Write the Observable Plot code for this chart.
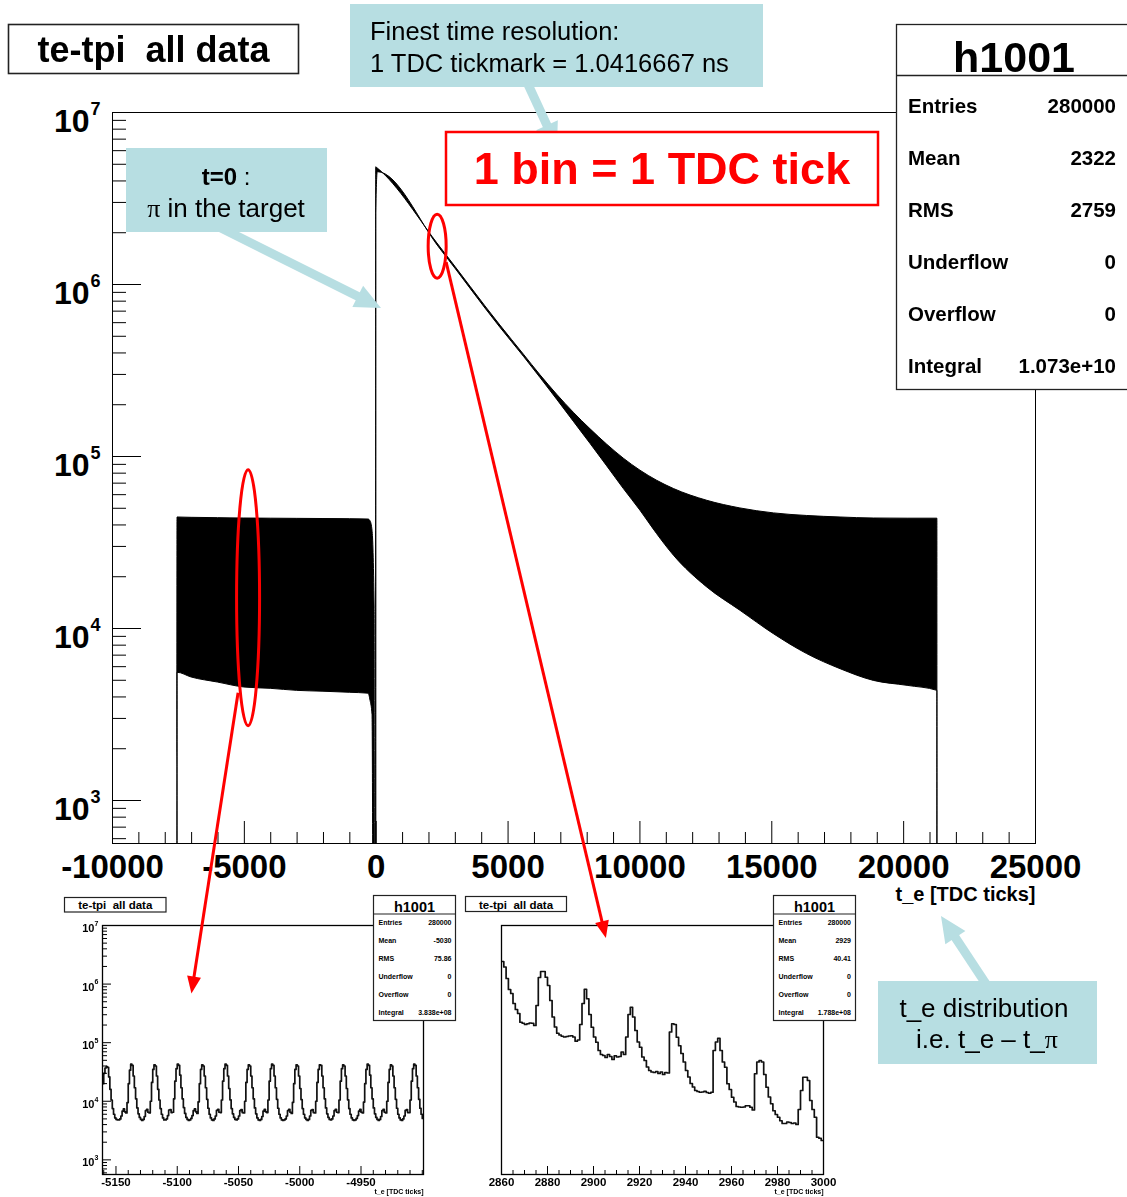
<!DOCTYPE html>
<html>
<head>
<meta charset="utf-8">
<script src="https://cdn.jsdelivr.net/npm/d3@7"></script>
<script src="https://cdn.jsdelivr.net/npm/@observablehq/plot@0.6"></script>
<style>
  html, body { margin: 0; padding: 0; background: #fff; }
  #fig { position: relative; width: 1127px; height: 1197px; overflow: hidden; background: #fff; }
  #fig > div, #fig > svg { position: absolute; }
  .inset { filter: blur(0.5px); }
  .inset > svg { position: absolute; left: 0; top: 0; }
</style>
</head>
<body>
<div id="fig"></div>
<script>
// ---------------- data ----------------
// t_e histogram (1 bin = 1 TDC tick), drawn as the band between the lower and
// upper envelope of the fast bunch structure. Counts per bin.
const envT     = [-7536, -7535, -7000, -6000, -5000, -4000, -3000, -2000, -1000, -290, -215, -140, -60, -40, -1,
                  0, 60, 2440, 4710, 5600, 6230, 6860, 7490, 8130, 8760, 9390, 10020, 10650, 11290, 12550, 13810, 15080, 16340, 17610, 18870, 20150, 21280, 21281];
const envUpper = [1, 44200, 44000, 43800, 43600, 43500, 43400, 43300, 43200, 43000, 42000, 37000, 13000, 1, 1,
                  4800000, 4720000, 1640000, 577000, 391000, 296500, 228800, 179800, 143800, 117100, 97100, 82700, 72300, 64700, 55300, 49900, 46700, 45100, 44200, 43600, 43500, 43500, 1];
const envLower = [1, 5530, 5190, 4850, 4540, 4460, 4340, 4290, 4230, 4180, 3800, 3150, 1, 1, 1,
                  2600000, 4500000, 1600000, 560000, 380000, 286000, 214000, 159400, 118200, 87600, 64700, 48400, 35400, 26500, 17330, 12680, 9270, 7100, 5800, 4960, 4640, 4340, 1];

// zoom on the pre-pion region: bins -5161 ... -4900, counts in thousands
const leftZoomStart = -5161;
const leftZoomCountsK = [
  20, 30, 37,
  39, 38, 26, 16, 10.5, 7.5, 6.0, 5.2, 4.9, 4.8, 4.8, 5.0, 5.6, 6.8, 7.4, 6.6, 6.3, 9.5, 20, 34,
  43, 41, 27, 17, 11, 7.7, 6.1, 5.3, 4.9, 4.7, 4.9, 5.5, 6.9, 7.3, 6.5, 6.3, 10, 21, 35,
  42, 40, 27, 16, 10.5, 7.5, 6.0, 5.2, 4.8, 4.8, 5.0, 5.7, 7.1, 7.2, 6.4, 6.5, 11, 22, 36,
  43, 41, 28, 17, 11, 7.8, 6.2, 5.3, 4.9, 4.7, 4.8, 5.1, 5.7, 6.9, 7.4, 6.6, 6.2, 9.8, 20, 35,
  42, 40, 27, 17, 10.8, 7.6, 6.0, 5.2, 4.8, 4.7, 5.0, 5.6, 7.0, 7.3, 6.5, 6.4, 10.5, 22, 36,
  43, 41, 27, 16.5, 10.6, 7.5, 6.1, 5.3, 4.9, 4.8, 5.0, 5.6, 6.9, 7.2, 6.4, 6.3, 10, 21, 35,
  42, 40, 27, 17, 11, 7.7, 6.1, 5.2, 4.8, 4.7, 4.9, 5.5, 6.8, 7.3, 6.6, 6.4, 10.5, 22, 36,
  43, 41, 27, 17, 10.8, 7.6, 6.0, 5.2, 4.8, 4.7, 4.8, 5.0, 5.6, 6.9, 7.3, 6.5, 6.2, 9.6, 20, 35,
  42, 40, 27, 16.5, 10.7, 7.5, 6.0, 5.2, 4.9, 4.7, 4.9, 5.6, 7.0, 7.2, 6.4, 6.3, 10, 21, 35,
  42, 41, 27, 17, 11, 7.7, 6.1, 5.3, 4.9, 4.8, 5.0, 5.6, 6.9, 7.3, 6.5, 6.4, 10.5, 22, 36,
  42, 40, 27, 16.5, 10.6, 7.5, 6.0, 5.2, 4.8, 4.7, 4.8, 5.1, 5.7, 6.8, 7.3, 6.5, 6.3, 9.7, 20, 35,
  43, 41, 28, 17, 11, 7.7, 6.1, 5.3, 4.9, 4.7, 4.9, 5.5, 6.9, 7.3, 6.5, 6.3, 10, 21, 35,
  42, 40, 27, 17, 10.8, 7.6, 6.0, 5.2, 4.8, 4.7, 5.0, 5.6, 7.0, 7.2, 6.4, 6.4, 10.5, 22, 36,
  43, 41, 27, 17, 10.8, 7.6, 6.0, 5.1
];

// zoom on the decay region: bins 2860 ... 2999, counts in thousands
const rightZoomStart = 2860;
const rightZoomCountsK = [
  1552, 1530, 1484, 1440, 1424, 1384, 1360, 1344, 1309, 1305,
  1300, 1303, 1306, 1305, 1296, 1376, 1488, 1512, 1512, 1489,
  1456, 1396, 1330, 1290, 1265, 1258, 1253, 1250, 1252, 1254,
  1255, 1250, 1233, 1238, 1300, 1384, 1441, 1403, 1340, 1289,
  1250, 1229, 1196, 1180, 1176, 1168, 1180, 1172, 1160, 1175,
  1170, 1172, 1190, 1180, 1250, 1340, 1369, 1330, 1276, 1230,
  1209, 1170, 1156, 1130, 1116, 1110, 1108, 1112, 1104, 1110,
  1100, 1108, 1106, 1270, 1303, 1300, 1249, 1215, 1184, 1150,
  1116, 1090, 1064, 1050, 1036, 1032, 1029, 1030, 1033, 1028,
  1025, 1029, 1196, 1230, 1245, 1196, 1150, 1129, 1063, 1040,
  1009, 990, 972, 970, 969, 970, 975, 975, 969, 958,
  1103, 1150, 1156, 1150, 1100, 1049, 1010, 983, 955, 940,
  929, 915, 904, 904, 910, 908, 904, 906, 900, 960,
  1036, 1089, 1089, 1076, 996, 960, 929, 849, 845, 836
];

// axis ticks and labels
const xMajor = [-10000, -5000, 0, 5000, 10000, 15000, 20000, 25000];
const yMajor = [1e3, 1e4, 1e5, 1e6, 1e7];
const leftZoomXMajor = [-5150, -5100, -5050, -5000, -4950];
const rightZoomXMajor = [2860, 2880, 2900, 2920, 2940, 2960, 2980, 3000];

// statistics boxes
const statLabels = ["Entries", "Mean", "RMS", "Underflow", "Overflow", "Integral"];
const mainStats = ["280000", "2322", "2759", "0", "0", "1.073e+10"];
const leftZoomStats = ["280000", "-5030", "75.86", "0", "0", "3.838e+08"];
const rightZoomStats = ["280000", "2929", "40.41", "0", "0", "1.788e+08"];

const histTitle = "te-tpi  all data";
const histName = "h1001";
const xTitle = "t_e [TDC ticks]";

// ---------------- layout helpers ----------------
const FONT = "'Liberation Sans', Arial, Helvetica, sans-serif";
const TEAL = "#b7dee2";
const RED = "#ff0000";
const fig = document.getElementById("fig");

const yMin = 10 ** 2.75, yMax = 1e7;
const yMinor = [];
for (let d = 2; d <= 6; ++d) for (let k = 2; k <= 9; ++k) {
  const v = k * 10 ** d;
  if (v >= yMin && v <= yMax) yMinor.push(v);
}
const xMinor = d3.range(-10000, 25001, 1000).filter(v => !xMajor.includes(v));

// ---------------- main histogram ----------------
const mainRows = envT.map((t, i) => ({t, upper: envUpper[i], lower: envLower[i]}));
const M = {w: 1127, h: 912, l: 112, r: 92, t: 112, b: 69};
const mpw = M.w - M.l - M.r, mph = M.h - M.t - M.b;

const main = Plot.plot({
  width: M.w, height: M.h,
  marginLeft: M.l, marginRight: M.r, marginTop: M.t, marginBottom: M.b,
  style: {fontFamily: FONT, background: "transparent", overflow: "visible"},
  x: {domain: [-10000, 25000]},
  y: {type: "log", domain: [yMin, yMax], axis: null},
  marks: [
    Plot.areaY(mainRows, {x: "t", y1: "lower", y2: "upper", curve: "monotone-x",
                          fill: "#000", stroke: "#000", strokeWidth: 1, clip: true}),
    Plot.tickX(xMinor, {x: d => d, stroke: "#000", insetTop: mph - 11}),
    Plot.tickX(xMajor, {x: d => d, stroke: "#000", insetTop: mph - 22}),
    Plot.tickY(yMinor, {y: d => d, stroke: "#000", insetRight: mpw - 14}),
    Plot.tickY(yMajor, {y: d => d, stroke: "#000", insetRight: mpw - 29}),
    Plot.frame({stroke: "#000"}),
    Plot.axisX({ticks: xMajor, tickSize: 0, tickPadding: 11, tickFormat: d => String(d),
                fontSize: 33, fontWeight: "bold", label: null}),
    Plot.text(yMajor, {x: -10000, y: d => d, text: () => "10", textAnchor: "end",
                       dx: -23, dy: 9, fontSize: 32, fontWeight: "bold"}),
    Plot.text(yMajor, {x: -10000, y: d => d, text: d => String(Math.round(Math.log10(d))),
                       textAnchor: "start", dx: -22, dy: -3, fontSize: 18, fontWeight: "bold"}),
    Plot.text([xTitle], {frameAnchor: "bottom-right", text: d => d, textAnchor: "end",
                         dy: 57, fontSize: 20, fontWeight: "bold"})
  ]
});
main.style.left = "0px";
main.style.top = "0px";
fig.appendChild(main);

// ---------------- zoomed insets ----------------
function zoomPanel({left, top, width, height, ml, mr, mt, mb, xDomain, y, rows, xLabels, xMinorStep, logAxis}) {
  const pw = width - ml - mr, ph = height - mt - mb;
  const minors = d3.range(Math.ceil(xDomain[0] / xMinorStep) * xMinorStep, xDomain[1] + 1, xMinorStep)
    .filter(v => !xLabels.includes(v));
  const marks = [
    Plot.lineY(rows, {x: "t", y: "v", curve: "step-after", stroke: "#111", strokeWidth: 1.7, clip: true}),
    Plot.tickX(minors, {x: d => d, stroke: "#000", insetTop: ph - 4}),
    Plot.tickX(xLabels, {x: d => d, stroke: "#000", insetTop: ph - 8}),
    Plot.frame({stroke: "#000", strokeWidth: 1.3}),
    Plot.axisX({ticks: xLabels, tickSize: 0, tickPadding: 3, tickFormat: d => String(d),
                fontSize: 11.5, fontWeight: "bold", label: null}),
    Plot.text([xTitle], {frameAnchor: "bottom-right", text: d => d, textAnchor: "end",
                         dy: 19, fontSize: 7, fontWeight: "bold"})
  ];
  if (logAxis) {
    marks.push(
      Plot.tickY(yMinor, {y: d => d, stroke: "#000", insetRight: pw - 5}),
      Plot.tickY(yMajor, {y: d => d, stroke: "#000", insetRight: pw - 9}),
      Plot.text(yMajor, {x: xDomain[0], y: d => d, text: () => "10", textAnchor: "end",
                         dx: -8, dy: 3, fontSize: 11, fontWeight: "bold"}),
      Plot.text(yMajor, {x: xDomain[0], y: d => d, text: d => String(Math.round(Math.log10(d))),
                         textAnchor: "start", dx: -8, dy: -2, fontSize: 7, fontWeight: "bold"})
    );
  }
  const p = Plot.plot({
    width, height, marginLeft: ml, marginRight: mr, marginTop: mt, marginBottom: mb,
    style: {fontFamily: FONT, background: "transparent", overflow: "visible"},
    x: {domain: xDomain},
    y: {...y, axis: null},
    marks
  });
  const wrap = document.createElement("div");
  wrap.className = "inset";
  wrap.style.left = left + "px";
  wrap.style.top = top + "px";
  wrap.style.width = width + "px";
  wrap.style.height = height + "px";
  wrap.appendChild(p);
  fig.appendChild(wrap);
  return {plot: p, wrap, left, top};
}

function withClosingEdge(rows) {
  const last = rows[rows.length - 1];
  return rows.concat([{t: last.t + 1, v: last.v}]);
}

const leftRows = withClosingEdge(leftZoomCountsK.map((k, i) => ({t: leftZoomStart + i, v: k * 1000})));
const rightRows = withClosingEdge(rightZoomCountsK.map((k, i) => ({t: rightZoomStart + i, v: k * 1000})));

const zoomL = zoomPanel({
  left: 55, top: 890, width: 412, height: 307, ml: 47, mr: 44, mt: 35, mb: 23,
  xDomain: [-5161, -4899], y: {type: "log", domain: [yMin, yMax]},
  rows: leftRows, xLabels: leftZoomXMajor, xMinorStep: 10, logAxis: true
});
const zoomR = zoomPanel({
  left: 460, top: 890, width: 410, height: 307, ml: 41, mr: 47, mt: 35, mb: 23,
  xDomain: [2860, 3000], y: {type: "linear", domain: [700000, 1696000]},
  rows: rightRows, xLabels: rightZoomXMajor, xMinorStep: 5, logAxis: false
});

// ---------------- boxes, notes and arrows ----------------
function text(g, x, y, s, size, o = {}) {
  return g.append("text").attr("x", x).attr("y", y)
    .attr("font-size", size).attr("font-weight", o.weight || "normal")
    .attr("text-anchor", o.anchor || "start").attr("fill", o.fill || "#000")
    .style("white-space", "pre").text(s);
}
function rect(g, x, y, w, h, fill, stroke, sw) {
  return g.append("rect").attr("x", x).attr("y", y).attr("width", w).attr("height", h)
    .attr("fill", fill).attr("stroke", stroke || "none").attr("stroke-width", sw || 0);
}
function titleBox(g, x, y, w, h, size, baseline) {
  rect(g, x, y, w, h, "#fff", "#222", size > 20 ? 1.6 : 1.2);
  text(g, x + w / 2, baseline, histTitle, size, {weight: "bold", anchor: "middle"});
}
function statsBox(g, b, values) {
  rect(g, b.x, b.y, b.w, b.h, "#fff", "#222", b.sw);
  g.append("line").attr("x1", b.x).attr("x2", b.x + b.w).attr("y1", b.sep).attr("y2", b.sep)
    .attr("stroke", "#222").attr("stroke-width", b.sw);
  text(g, b.tx, b.ty, histName, b.tsize, {weight: "bold", anchor: "middle"});
  statLabels.forEach((lab, i) => {
    const yy = b.row0 + i * b.rowStep;
    text(g, b.lx, yy, lab, b.size, {weight: "bold"});
    text(g, b.vx, yy, values[i], b.size, {weight: "bold", anchor: "end"});
  });
}
function fatArrow(g, x0, y0, x1, y1, color, shaft, headLen, headW) {
  const L = Math.hypot(x1 - x0, y1 - y0), ux = (x1 - x0) / L, uy = (y1 - y0) / L;
  const nx = -uy, ny = ux, bx = x1 - ux * headLen, by = y1 - uy * headLen;
  g.append("line").attr("x1", x0).attr("y1", y0).attr("x2", bx + ux).attr("y2", by + uy)
    .attr("stroke", color).attr("stroke-width", shaft);
  g.append("polygon").attr("fill", color).attr("points", [
    [x1, y1], [bx + nx * headW / 2, by + ny * headW / 2], [bx - nx * headW / 2, by - ny * headW / 2]
  ].map(p => p.join(",")).join(" "));
}

// inset decorations (drawn inside each blurred inset)
for (const [z, vals, tb, sb] of [
  [zoomL, leftZoomStats, {x: 9.5, y: 7.5, w: 101.5, h: 14.5}, {x: 318.5, lx: 323.5, vx: 396.5}],
  [zoomR, rightZoomStats, {x: 5.5, y: 6.5, w: 101, h: 15}, {x: 313.5, lx: 318.5, vx: 391}]
]) {
  const g = d3.select(z.wrap).append("svg").attr("width", 420).attr("height", 307)
    .style("font-family", FONT).style("overflow", "visible");
  titleBox(g, tb.x, tb.y, tb.w, tb.h, 11.5, 19);
  statsBox(g, {x: sb.x, y: 5.5, w: 82, h: 125, sep: 24, sw: 1.2, tx: sb.x + 41, ty: 21.5, tsize: 14.5,
               lx: sb.lx, vx: sb.vx, row0: 34.8, rowStep: 18.1, size: 7}, vals);
}

const svg = d3.select(fig).append("svg").attr("width", 1127).attr("height", 1197)
  .style("left", "0px").style("top", "0px").style("font-family", FONT);

// histogram title and statistics
titleBox(svg, 8.5, 24.5, 290, 49, 36, 62);
statsBox(svg, {x: 896.5, y: 24.5, w: 260, h: 365, sep: 75.5, sw: 1.3, tx: 1014, ty: 72, tsize: 43,
               lx: 908, vx: 1116, row0: 113, rowStep: 52, size: 20.5}, mainStats);

const sx = main.scale("x"), sy = main.scale("y");

// light-blue notes with their arrows
fatArrow(svg, 526, 80, 557, 147, TEAL, 9, 24, 24);
rect(svg, 350, 4, 413, 83, TEAL);
text(svg, 370, 40, "Finest time resolution:", 25.5);
text(svg, 370, 72, "1 TDC tickmark = 1.0416667 ns", 25.5);

fatArrow(svg, 215, 225, sx.apply(200), sy.apply(7.25e5), TEAL, 9, 26, 24);
rect(svg, 126, 148, 201, 84, TEAL);
const t0 = text(svg, 226, 185, "", 24, {anchor: "middle"});
t0.append("tspan").attr("font-weight", "bold").text("t=0");
t0.append("tspan").text(" :");
const pi1 = text(svg, 226, 217, "", 26, {anchor: "middle"});
pi1.append("tspan").attr("font-family", "'Liberation Serif', 'Times New Roman', serif").text("π");
pi1.append("tspan").text(" in the target");

fatArrow(svg, 990, 990, 941, 916, TEAL, 9, 26, 24);
rect(svg, 878, 981, 219, 83, TEAL);
text(svg, 984, 1017, "t_e distribution", 26, {anchor: "middle"});
const ie = text(svg, 987, 1048, "", 26, {anchor: "middle"});
ie.append("tspan").text("i.e. t_e \u2013 t_");
ie.append("tspan").attr("font-family", "'Liberation Serif', 'Times New Roman', serif").text("π");

// bin-width note
rect(svg, 446, 132, 432, 73, "#fff", RED, 2.5);
text(svg, 662, 184, "1 bin = 1 TDC tick", 45, {weight: "bold", anchor: "middle", fill: RED});

// red ellipses marking the zoomed regions, with arrows to the insets
const e1 = {cx: sx.apply(2330), cy: sy.apply(1.66e6), rx: 9, ry: 32};
const e2 = {cx: sx.apply(-4840), cy: sy.apply(1.5e4), rx: 11.5, ry: 128};
for (const e of [e1, e2]) {
  svg.append("ellipse").attr("cx", e.cx).attr("cy", e.cy).attr("rx", e.rx).attr("ry", e.ry)
    .attr("fill", "none").attr("stroke", RED).attr("stroke-width", 3);
}
const tipR = [zoomR.left + zoomR.plot.scale("x").apply(2905.6), zoomR.top + zoomR.plot.scale("y").apply(1644000)];
const tipL = [zoomL.left + zoomL.plot.scale("x").apply(-5088), zoomL.top + zoomL.plot.scale("y").apply(6.8e5)];
fatArrow(svg, e1.cx + 9, e1.cy + 16, tipR[0], tipR[1], RED, 3, 17, 14);
fatArrow(svg, e2.cx - 10, e2.cy + 95, tipL[0], tipL[1], RED, 3, 17, 14);
</script>
</body>
</html>
